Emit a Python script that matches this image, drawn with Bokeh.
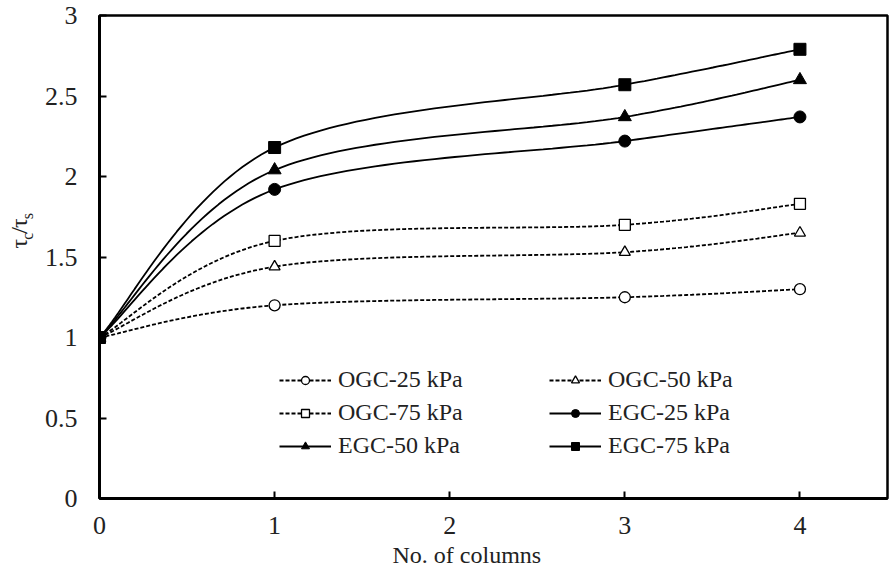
import numpy as np
from bokeh.plotting import figure
from bokeh.layouts import row
from bokeh.models import (Range1d, FixedTicker, NumeralTickFormatter, Legend,
                          LegendItem, Title)
from bokeh.core.properties import value
from bokeh.embed import file_html
from bokeh.resources import INLINE

# ---------------- data ----------------
columns = [0, 1, 3, 4]
ogc_25 = [1.0, 1.20, 1.25, 1.30]
ogc_50 = [1.0, 1.44, 1.53, 1.65]
ogc_75 = [1.0, 1.60, 1.70, 1.83]
egc_25 = [1.0, 1.92, 2.22, 2.37]
egc_50 = [1.0, 2.04, 2.37, 2.60]
egc_75 = [1.0, 2.18, 2.57, 2.79]
x_ticks = [0, 1, 2, 3, 4]
y_ticks = [0, 0.5, 1, 1.5, 2, 2.5, 3]
x_title = "No. of columns"
y_title_parts = ["τ", "c", "/", "τ", "s"]

FONT = "Liberation Serif"
TXT = "#222222"
H = 572
LW = 40  # width of the strip holding the y-axis title


def smooth(xs, ys, n=40):
    """Spreadsheet-style smoothed line (cubic Bezier through the points)."""
    P = np.column_stack([xs, ys]).astype(float)
    ox, oy = [], []
    m = len(P)
    for i in range(m - 1):
        p0 = P[i - 1] if i > 0 else P[i]
        p1, p2 = P[i], P[i + 1]
        p3 = P[i + 2] if i + 2 < m else P[i + 1]
        c1 = p1 + (p2 - p0) / 6.0
        c2 = p2 - (p3 - p1) / 6.0
        t = np.linspace(0, 1, n)[:, None]
        b = ((1 - t) ** 3) * p1 + 3 * ((1 - t) ** 2) * t * c1 + 3 * (1 - t) * t ** 2 * c2 + t ** 3 * p2
        if i > 0:
            b = b[1:]
        ox.extend(b[:, 0]); oy.extend(b[:, 1])
    return ox, oy


p = figure(width=889 - LW, height=H, output_backend="svg", toolbar_location=None,
           x_range=Range1d(0, 4.5), y_range=Range1d(0, 3),
           min_border_left=59, min_border_right=2, min_border_top=15,
           min_border_bottom=74)
p.grid.visible = False
p.outline_line_color = "black"
p.outline_line_width = 2.5
p.background_fill_color = "white"
p.border_fill_color = "white"

for ax in (p.xaxis[0], p.yaxis[0]):
    ax.axis_line_width = 3
    ax.axis_line_color = "black"
    ax.major_tick_in = 7
    ax.major_tick_out = 0
    ax.major_tick_line_width = 2
    ax.minor_tick_line_color = None
    ax.major_label_text_font = FONT
    ax.major_label_text_font_size = "26px"
    ax.major_label_text_color = TXT

p.xaxis.ticker = FixedTicker(ticks=x_ticks)
p.yaxis.ticker = FixedTicker(ticks=y_ticks)
p.yaxis.formatter = NumeralTickFormatter(format="0.[0]")
p.xaxis.major_label_standoff = 18
p.yaxis.major_label_standoff = 22

series = [
    ("OGC-25 kPa", ogc_25, "dashed", "circle", False),
    ("OGC-50 kPa", ogc_50, "dashed", "triangle", False),
    ("OGC-75 kPa", ogc_75, "dashed", "square", False),
    ("EGC-25 kPa", egc_25, "solid", "circle", True),
    ("EGC-50 kPa", egc_50, "solid", "triangle", True),
    ("EGC-75 kPa", egc_75, "solid", "square", True),
]

line_r = {}
for name, ys, dash, mk, filled in series:
    sx, sy = smooth(columns, ys)
    line_r[name] = p.line(sx, sy, line_color="black", line_width=1.8,
                          line_dash=("4 2" if dash == "dashed" else "solid"))

mark_r = {}
for name, ys, dash, mk, filled in series:
    if filled:
        size = {"circle": 12, "triangle": 13, "square": 12}[mk]
        mark_r[name] = p.scatter(columns, ys, marker=mk, size=size,
                                 fill_color="black", line_color="black", line_width=1)
    else:
        mark_r[name] = p.scatter(columns, ys, marker=mk, size=11,
                                 fill_color="white", line_color="black", line_width=1.3)


def make_legend(names, loc):
    items = [LegendItem(label=n, renderers=[line_r[n], mark_r[n]]) for n in names]
    lg = Legend(items=items, location=loc, orientation="vertical",
                border_line_color=None, background_fill_alpha=0,
                padding=0, margin=0, spacing=6, label_standoff=7,
                glyph_width=52, glyph_height=20, label_height=20,
                label_text_font=FONT, label_text_font_size="24px",
                label_text_color=TXT)
    p.add_layout(lg, "center")


make_legend(["OGC-25 kPa", "OGC-75 kPa", "EGC-50 kPa"], (180, 39))
make_legend(["OGC-50 kPa", "EGC-25 kPa", "EGC-75 kPa"], (450, 39))

# x-axis title, placed below the axis
p.add_layout(Title(text=x_title, align="left", offset=293, text_font=FONT,
                   text_font_size="24px", text_font_style="normal",
                   text_color=TXT, standoff=6), "below")

# ---------- y-axis title strip (allows subscripts) ----------
q = figure(width=LW, height=H, output_backend="svg", toolbar_location=None,
           x_range=Range1d(0, LW), y_range=Range1d(0, H),
           x_axis_type=None, y_axis_type=None, min_border=0)
q.grid.visible = False
q.outline_line_color = None
q.background_fill_color = "white"
q.border_fill_color = "white"

# (screen x of baseline, screen y where the character starts, font size)
pos = [(18.5, 276.0, 24), (26.5, 265.5, 16), (18.5, 258.5, 24),
       (18.5, 251.8, 24), (26.5, 241.3, 16)]
for txt, (sxp, syp, fs) in zip(y_title_parts, pos):
    q.text(x=[sxp], y=[H - syp], text=[txt], angle=np.pi / 2,
           text_font=value(FONT), text_font_size=f"{fs}px",
           text_align="left", text_baseline="alphabetic", text_color=TXT)

layout = row(q, p, spacing=0)
open("out.html", "w").write(file_html(layout, INLINE))
